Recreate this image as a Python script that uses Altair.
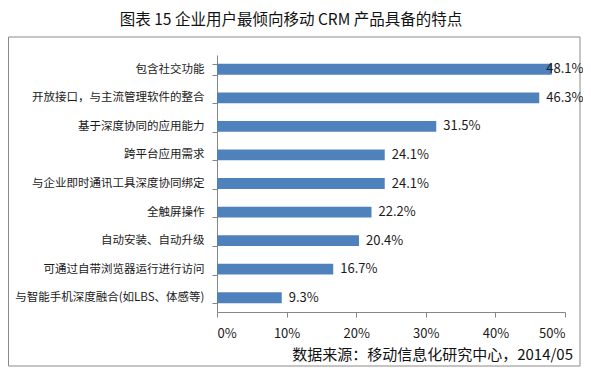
import altair as alt
import pandas as pd

categories = [
    "包含社交功能",
    "开放接口，与主流管理软件的整合",
    "基于深度协同的应用能力",
    "跨平台应用需求",
    "与企业即时通讯工具深度协同绑定",
    "全触屏操作",
    "自动安装、自动升级",
    "可通过自带浏览器运行进行访问",
    "与智能手机深度融合(如LBS、体感等)",
]
values = [48.1, 46.3, 31.5, 24.1, 24.1, 22.2, 20.4, 16.7, 9.3]
x_ticks = [0, 10, 20, 30, 40, 50]
title_text = "图表 15 企业用户最倾向移动 CRM 产品具备的特点"
source_text = "数据来源：移动信息化研究中心，2014/05"

FONT = "Noto Sans CJK SC"

df = pd.DataFrame({"cat": categories, "v": values})
df["label"] = [f"{v:.1f}%" for v in values]

y_enc = alt.Y(
    "cat:N",
    sort=categories,
    title=None,
    scale=alt.Scale(paddingInner=0.62, paddingOuter=0.31),
    axis=alt.Axis(
        domainColor="#868686",
        tickColor="#868686",
        tickSize=5,
        tickBand="extent",
        labelFont=FONT,
        labelFontSize=11.5,
        labelColor="#1a1a1a",
        labelPadding=8,
        labelLimit=400,
    ),
)
x_enc = alt.X(
    "v:Q",
    title=None,
    scale=alt.Scale(domain=[0, 50], nice=False),
    axis=alt.Axis(
        values=x_ticks,
        labelExpr="datum.value + '%'",
        grid=False,
        domainColor="#868686",
        tickColor="#868686",
        tickSize=5,
        labelFont=FONT,
        labelFontSize=13,
        labelColor="#1a1a1a",
        labelPadding=10,
    ),
)

frame = alt.Chart(pd.DataFrame({"k": [0]})).mark_rect(
    fillOpacity=0, stroke="#8a8a8a", strokeWidth=1
).encode(
    x=alt.value(-208.5), x2=alt.value(363), y=alt.value(-18), y2=alt.value(311)
)

bars = alt.Chart(df).mark_bar(color="#4F81BD").encode(x=x_enc, y=y_enc)

labels = (
    alt.Chart(df)
    .transform_calculate(lx="min(datum.v, 46.3)")
    .mark_text(align="left", baseline="middle", dx=7, font=FONT, fontSize=13, color="#1a1a1a")
    .encode(x=alt.X("lx:Q"), y=alt.Y("cat:N", sort=categories), text="label:N")
)

title = alt.Chart(pd.DataFrame({"t": [title_text]})).mark_text(
    align="center", baseline="middle", font=FONT, fontSize=15.5, color="#111111"
).encode(text="t:N", x=alt.value(74), y=alt.value(-35))

source = alt.Chart(pd.DataFrame({"t": [source_text]})).mark_text(
    align="right", baseline="middle", font=FONT, fontSize=15, color="#111111"
).encode(text="t:N", x=alt.value(356), y=alt.value(300))

chart = (
    alt.layer(frame, bars, labels, title, source)
    .properties(
        width=348,
        height=257,
        autosize=alt.AutoSizeParams(type="none"),
        padding={"left": 209, "top": 47, "right": 18, "bottom": 55},
    )
    .configure_view(stroke=None)
)

chart.save("out.html", embed_options={"renderer": "svg", "actions": False})
